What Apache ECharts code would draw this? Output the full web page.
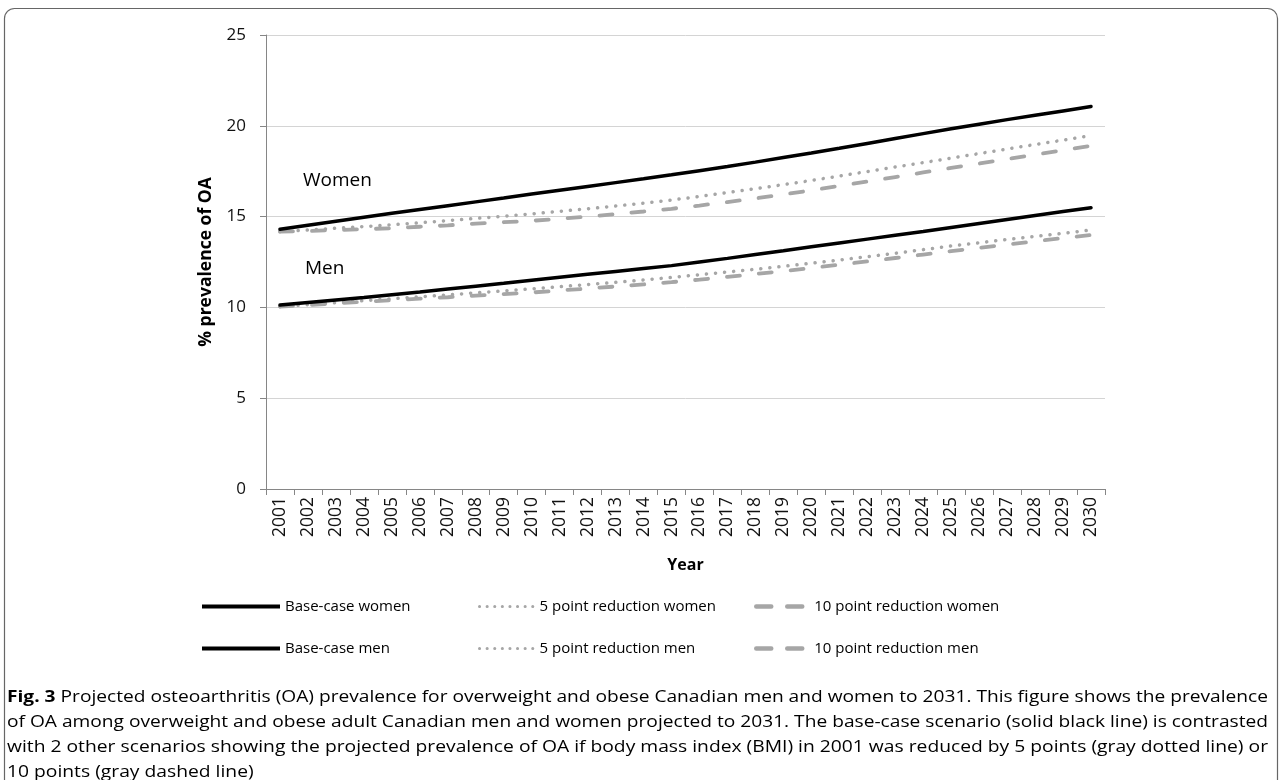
<!DOCTYPE html>
<html>
<head>
<meta charset="utf-8">
<script src="https://cdn.jsdelivr.net/npm/echarts@6/dist/echarts.min.js"></script>
<style>
html,body{margin:0;padding:0;background:#fff;}
#main{width:1281px;height:780px;}
</style>
</head>
<body>
<div id="main"></div>
<script>
const years = ['2001','2002','2003','2004','2005','2006','2007','2008','2009','2010','2011','2012','2013','2014','2015','2016','2017','2018','2019','2020','2021','2022','2023','2024','2025','2026','2027','2028','2029','2030'];
const baseWomen = [14.30,14.52,14.74,14.96,15.18,15.39,15.60,15.81,16.02,16.24,16.45,16.66,16.87,17.08,17.30,17.53,17.76,18.00,18.25,18.50,18.76,19.03,19.30,19.57,19.84,20.09,20.34,20.58,20.82,21.06];
const red5Women = [14.17,14.26,14.36,14.45,14.55,14.66,14.78,14.90,15.02,15.15,15.29,15.43,15.58,15.74,15.91,16.11,16.32,16.54,16.76,16.99,17.23,17.48,17.73,17.97,18.22,18.47,18.72,18.97,19.21,19.46];
const red10Women = [14.17,14.21,14.26,14.31,14.36,14.44,14.52,14.61,14.69,14.77,14.88,15.00,15.14,15.28,15.43,15.61,15.80,16.00,16.22,16.45,16.69,16.93,17.18,17.43,17.68,17.92,18.17,18.41,18.66,18.90];
const baseMen = [10.13,10.27,10.41,10.55,10.70,10.85,11.01,11.17,11.33,11.50,11.66,11.82,11.98,12.14,12.30,12.50,12.70,12.91,13.12,13.34,13.55,13.76,13.97,14.18,14.40,14.62,14.84,15.06,15.28,15.49];
const red5Men = [10.04,10.15,10.26,10.37,10.48,10.58,10.69,10.80,10.91,11.02,11.14,11.26,11.38,11.51,11.65,11.80,11.95,12.10,12.26,12.43,12.61,12.79,12.98,13.18,13.38,13.56,13.74,13.91,14.08,14.26];
const red10Men = [10.04,10.13,10.22,10.31,10.40,10.48,10.56,10.65,10.73,10.82,10.93,11.04,11.15,11.27,11.39,11.53,11.68,11.84,12.00,12.17,12.35,12.53,12.72,12.91,13.10,13.28,13.46,13.64,13.82,13.99];
const yTicks = [0, 5, 10, 15, 20, 25];
const seriesNames = ['Base-case women','5 point reduction women','10 point reduction women','Base-case men','5 point reduction men','10 point reduction men'];
const captionLines = [
  ['Fig. 3', ' Projected osteoarthritis (OA) prevalence for overweight and obese Canadian men and women to 2031. This figure shows the prevalence'],
  ['', 'of OA among overweight and obese adult Canadian men and women projected to 2031. The base-case scenario (solid black line) is contrasted'],
  ['', 'with 2 other scenarios showing the projected prevalence of OA if body mass index (BMI) in 2001 was reduced by 5 points (gray dotted line) or'],
  ['', '10 points (gray dashed line)']
];

const FONT = 'Open Sans';
const CAP_SIZE = 16.5;
const solid = {color:'#000000', width:3.5, type:'solid', cap:'round'};
const dotted = {color:'#A6A6A6', width:3.5, type:[0.1, 9], cap:'round'};
const dashed = {color:'#A6A6A6', width:3.8, type:[13, 19], cap:'round'};
const styles = [solid, dotted, dashed, solid, dotted, dashed];
const legendLine = [
  {color:'#000000', width:4, type:'solid', cap:'butt'},
  {color:'#A6A6A6', width:3, type:[0.1, 7.5], cap:'round'},
  {color:'#A6A6A6', width:4.5, type:[15, 16], cap:'round'}
];
const dataSets = [baseWomen, red5Women, red10Women, baseMen, red5Men, red10Men];

const chart = echarts.init(document.getElementById('main'));

const legendPos = [
  {left:200, top:599, w:78},
  {left:478, top:599, w:55},
  {left:754, top:599, w:53},
  {left:200, top:641, w:78},
  {left:478, top:641, w:55},
  {left:754, top:641, w:53}
];

const legends = seriesNames.map((n, i) => ({
  data: [n],
  left: legendPos[i].left,
  top: legendPos[i].top,
  padding: 0,
  itemWidth: legendPos[i].w,
  itemHeight: 14,
  selectedMode: false,
  itemStyle: {opacity: 0},
  lineStyle: legendLine[i % 3],
  textStyle: {fontFamily: FONT, fontSize: 15, color: '#000'}
}));

// measure caption lines so each full line spans the same width (justified look)
const ctx = document.createElement('canvas').getContext('2d');
function measure(bold, normal) {
  let w = 0;
  if (bold) { ctx.font = 'bold ' + CAP_SIZE + 'px "' + FONT + '"'; w += ctx.measureText(bold).width; }
  ctx.font = CAP_SIZE + 'px "' + FONT + '"';
  w += ctx.measureText(normal).width;
  return w;
}
const fullWidth = 1261;
const scales = captionLines.map(ln => fullWidth / measure(ln[0], ln[1]));
scales[3] = scales[2];

const captionGraphics = captionLines.map((ln, i) => ({
  type: 'text',
  x: 7,
  y: 697 + i * 25,
  scaleX: scales[i],
  style: {
    text: (ln[0] ? '{b|' + ln[0] + '}' : '') + '{n|' + ln[1] + '}',
    verticalAlign: 'middle',
    rich: {
      b: {fontFamily: FONT, fontSize: CAP_SIZE, fontWeight: 'bold', fill: '#000'},
      n: {fontFamily: FONT, fontSize: CAP_SIZE, fill: '#000'}
    }
  }
}));

chart.setOption({
  animation: false,
  backgroundColor: '#ffffff',
  grid: {left: 266, right: 176, top: 35, bottom: 291, containLabel: false},
  legend: legends,
  xAxis: {
    type: 'category',
    data: years,
    boundaryGap: true,
    name: 'Year',
    nameLocation: 'middle',
    nameGap: 68,
    nameTextStyle: {fontFamily: FONT, fontSize: 16, fontWeight: 'bold', color: '#000'},
    axisLine: {lineStyle: {color: '#868686', width: 1}},
    axisTick: {show: true, length: 6, interval: 0, alignWithLabel: false, lineStyle: {color: '#868686'}},
    axisLabel: {rotate: 90, interval: 0, margin: 8, fontFamily: FONT, fontSize: 17.5, color: '#111'},
    splitLine: {show: false}
  },
  yAxis: {
    type: 'value',
    min: yTicks[0],
    max: yTicks[yTicks.length - 1],
    interval: 5,
    name: '% prevalence of OA',
    nameLocation: 'middle',
    nameRotate: 90,
    nameGap: 51,
    nameTextStyle: {fontFamily: FONT, fontSize: 17.5, fontWeight: 'bold', color: '#000'},
    axisLine: {show: true, lineStyle: {color: '#868686', width: 1}},
    axisTick: {show: true, length: 6, lineStyle: {color: '#868686'}},
    axisLabel: {margin: 20, fontFamily: FONT, fontSize: 17, color: '#111'},
    splitLine: {show: true, lineStyle: {color: '#d4d4d4', width: 1}}
  },
  series: dataSets.map((d, i) => ({
    name: seriesNames[i],
    type: 'line',
    data: d,
    symbol: 'none',
    smooth: false,
    lineStyle: styles[i],
    itemStyle: {color: styles[i].color},
    z: i % 3 === 0 ? 5 : 3
  })),
  graphic: [
    {type: 'rect', left: 2, top: 6, shape: {x: 0, y: 0, width: 1273, height: 820, r: 10}, style: {fill: 'none', stroke: '#666', lineWidth: 1.2}, silent: true},
    {type: 'text', left: 303, top: 171, style: {text: 'Women', fontFamily: FONT, fontSize: 19, fill: '#000'}},
    {type: 'text', left: 305, top: 259, style: {text: 'Men', fontFamily: FONT, fontSize: 19, fill: '#000'}}
  ].concat(captionGraphics)
});
</script>
</body>
</html>
